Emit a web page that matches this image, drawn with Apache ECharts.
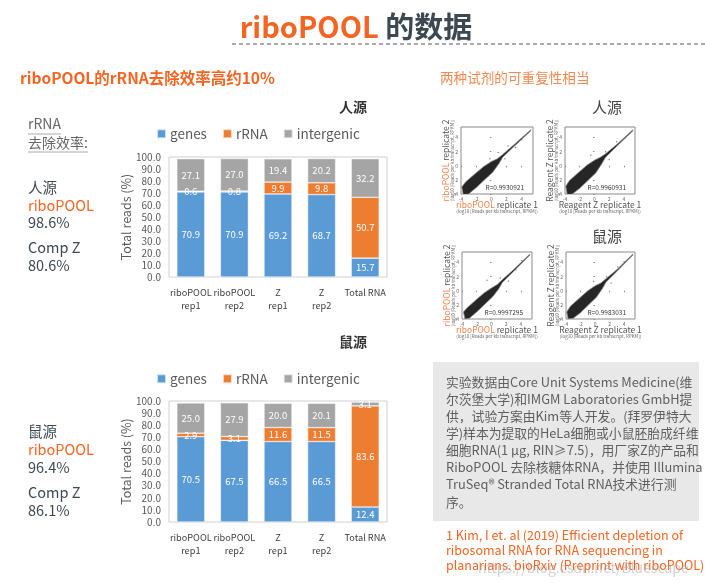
<!DOCTYPE html>
<html><head><meta charset="utf-8">
<script src="https://cdn.jsdelivr.net/npm/echarts@6/dist/echarts.min.js"></script>
<style>html,body{margin:0;padding:0;background:#fff}#c{width:705px;height:588px}</style>
</head><body><div id="c"></div>
<script>
// ---- data ----
const categories = ['riboPOOL\nrep1', 'riboPOOL\nrep2', 'Z\nrep1', 'Z\nrep2', 'Total RNA'];
const humanGenes = [70.9, 70.9, 69.2, 68.7, 15.7];
const humanRRNA = [0.6, 0.8, 9.9, 9.8, 50.7];
const humanInter = [27.1, 27.0, 19.4, 20.2, 32.2];
const mouseGenes = [70.5, 67.5, 66.5, 66.5, 12.4];
const mouseRRNA = [2.9, 3.1, 11.6, 11.5, 83.6];
const mouseInter = [25.0, 27.9, 20.0, 20.1, 3.1];
const scatterTicks = [-4, -2, 0, 2, 4];
// scatter cloud outlines (log10 RPKM)
const cloudHumanRibo = [[-3.9,-3.0],[-3.4,-2.3],[-2.0,-1.0],[-1.0,-0.1],[0.0,0.6],[0.8,1.0],[1.5,1.6],[3.0,3.0],[5.2,5.1],[5.2,4.95],[3.0,2.75],[1.5,1.2],[1.0,0.3],[0.2,-0.9],[-1.0,-2.1],[-2.0,-3.1],[-3.0,-4.0],[-3.7,-4.1]];
const cloudHumanZ = [[-3.9,-2.9],[-3.4,-2.1],[-2.0,-0.8],[-1.0,0.1],[0.0,0.8],[0.8,1.2],[1.5,1.7],[3.0,3.0],[5.2,5.1],[5.2,4.95],[3.0,2.75],[1.5,1.2],[1.0,0.3],[0.2,-1.0],[-1.0,-2.2],[-2.0,-3.2],[-3.0,-4.0],[-3.7,-4.1]];
const cloudMouseRibo = [[-3.8,-3.0],[-3.3,-2.4],[-2.0,-1.2],[-1.0,-0.3],[0.0,0.4],[0.8,0.9],[1.5,1.6],[3.0,3.0],[5.2,5.2],[5.2,5.05],[3.0,2.75],[1.5,1.2],[1.0,0.3],[0.2,-0.8],[-1.0,-2.0],[-2.0,-3.0],[-3.0,-3.9],[-3.6,-4.0]];
const cloudMouseZ = [[-3.9,-3.0],[-3.4,-2.2],[-2.0,-0.9],[-1.0,0.0],[0.0,0.7],[0.8,1.1],[1.5,1.7],[3.0,3.0],[5.2,5.2],[5.2,5.05],[3.0,2.75],[1.5,1.2],[1.0,0.3],[0.2,-0.9],[-1.0,-2.1],[-2.0,-3.1],[-3.0,-3.9],[-3.7,-4.0]];
const outHumanRibo = [[0.9,1.9],[1.8,1.0],[-0.2,1.0],[3.2,2.6],[2.2,2.8],[4.0,3.7]];
const outHumanZ = [[-0.5,1.5],[1.5,2.0],[2.0,0.9],[3.0,3.4],[4.2,4.0]];
const outMouseRibo = [[-0.6,1.5],[1.2,1.8],[2.3,1.4],[3.3,3.0],[4.1,4.3]];
const outMouseZ = [[-0.2,1.3],[1.6,2.0],[2.2,1.1],[3.1,3.4],[4.0,4.1]];
const rValues = ['R=0.9930921', 'R=0.9960931', 'R=0.9997295', 'R=0.9983031'];

const ORANGE = '#f26522', DARK = '#3d4852', GRAY = '#666';
const FONT = '"Noto Sans CJK SC", "Noto Sans", sans-serif';
const C_BLUE = '#5b9bd5', C_OR = '#ed7d31', C_GR = '#a5a5a5';

const chart = echarts.init(document.getElementById('c'), null, {renderer: 'canvas'});

const barGrids = [{left:169, top:157, width:218, height:120}, {left:169, top:401, width:218, height:121}];
const scGrids = [{left:461, top:127, width:72, height:67}, {left:565, top:127, width:70, height:67},
                 {left:462, top:252, width:70, height:67}, {left:566, top:252, width:69, height:67}];
const grids = barGrids.concat(scGrids).map(g => Object.assign({show:true, borderColor:'#d0d0d0', borderWidth:1, containLabel:false}, g));
grids.slice(2).forEach(g => { g.borderColor = '#8a8a8a'; });

const xAxes = [], yAxes = [];
for (let i = 0; i < 2; i++) {
  xAxes.push({type:'category', gridIndex:i, data:categories, axisLine:{show:false}, axisTick:{show:false},
    axisLabel:{fontSize:9.2, color:'#404040', lineHeight:13, margin:9, fontFamily:FONT, interval:0}});
  yAxes.push({type:'value', gridIndex:i, min:0, max:100, interval:10, splitLine:{show:false},
    axisLine:{show:false}, axisTick:{show:false},
    axisLabel:{fontSize:10, color:'#595959', margin:8, fontFamily:FONT, formatter:v => v.toFixed(1)},
    name:'Total reads (%)', nameLocation:'middle', nameGap:36,
    nameTextStyle:{fontSize:12.5, color:'#595959', fontFamily:FONT}});
}
for (let i = 0; i < 4; i++) {
  const ax = {gridIndex:i+2, type:'value', min:-4, max:5.5, interval:2, splitLine:{show:false},
    axisLine:{show:false}, axisTick:{show:true, length:1.5, lineStyle:{color:'#888'}},
    axisLabel:{fontSize:5, color:'#666', margin:3, showMaxLabel:false, fontFamily:FONT,
      formatter: v => scatterTicks.indexOf(v) >= 0 ? String(v) : ''}};
  xAxes.push(Object.assign({}, ax));
  yAxes.push(Object.assign({}, ax));
}

function barSeries(idx, g, r, it) {
  const lab = {show:true, color:'#fff', fontSize:9.5, fontFamily:FONT, formatter:p => p.value.toFixed(1)};
  const common = {type:'bar', stack:'s'+idx, xAxisIndex:idx, yAxisIndex:idx, barWidth:28, label:lab,
    itemStyle:{borderColor:'rgba(255,255,255,0.7)', borderWidth:0.6}};
  return [
    Object.assign({name:'genes', data:g, color:C_BLUE}, common),
    Object.assign({name:'rRNA', data:r, color:C_OR}, common),
    Object.assign({name:'intergenic', data:it, color:C_GR}, common)
  ];
}
function cloudSeries(idx, outline, outliers) {
  return [
    {type:'custom', xAxisIndex:idx, yAxisIndex:idx, data:[[0,0]], silent:true, clip:true,
      renderItem:(params, api) => ({type:'polygon',
        shape:{points: outline.map(p => api.coord(p))},
        style:{fill:'#262626', stroke:'#8a8a8a', lineWidth:0.8, lineJoin:'round'}})},
    {type:'scatter', xAxisIndex:idx, yAxisIndex:idx, data:outliers, symbolSize:1.5,
      itemStyle:{color:'#666'}, silent:true}
  ];
}

const series = [].concat(
  barSeries(0, humanGenes, humanRRNA, humanInter),
  barSeries(1, mouseGenes, mouseRRNA, mouseInter),
  cloudSeries(2, cloudHumanRibo, outHumanRibo),
  cloudSeries(3, cloudHumanZ, outHumanZ),
  cloudSeries(4, cloudMouseRibo, outMouseRibo),
  cloudSeries(5, cloudMouseZ, outMouseZ)
);

const legendBase = {data:['genes','rRNA','intergenic'], icon:'rect', itemWidth:9, itemHeight:9, itemGap:15,
  textStyle:{fontSize:13.5, color:'#595959', fontFamily:FONT, padding:[0,0,0,-1]}, selectedMode:false};

function txt(text, x, y, opts) {
  return {type:'text', x:x, y:y, silent:true, style:Object.assign({text:text, fill:DARK, font:'14px '+FONT,
    textAlign:'left', textVerticalAlign:'middle'}, opts || {})};
}
const rich = {o:{fill:'#f0824a', fontSize:8.5, fontFamily:FONT}, g:{fill:'#555', fontSize:8.5, fontFamily:FONT}};
const graphics = [
  txt('{o|riboPOOL }{d|的数据}', 356, 27, {textAlign:'center', rich:{
    o:{fill:ORANGE, fontSize:29, fontWeight:'bold', fontFamily:FONT},
    d:{fill:DARK, fontSize:29, fontWeight:'bold', fontFamily:FONT}}}),
  {type:'line', silent:true, shape:{x1:232, y1:44, x2:705, y2:44}, style:{stroke:'#555', lineWidth:1, lineDash:[4,3]}},
  txt('riboPOOL的rRNA去除效率高约10%', 20, 78, {fill:ORANGE, font:'bold 15.5px '+FONT}),
  txt('两种试剂的可重复性相当', 440, 78, {fill:'#f08a50', font:'13.6px '+FONT}),
  txt('人源', 353, 107, {textAlign:'center', font:'bold 14px '+FONT, fill:'#333'}),
  txt('鼠源', 353, 342, {textAlign:'center', font:'bold 14px '+FONT, fill:'#333'}),
  txt('人源', 607, 107, {textAlign:'center', font:'15px '+FONT, fill:'#444'}),
  txt('鼠源', 607, 236, {textAlign:'center', font:'15px '+FONT, fill:'#444'}),
  // left column
  txt('rRNA', 28, 124, {fill:GRAY, font:'14px '+FONT}),
  {type:'line', silent:true, shape:{x1:28, y1:134, x2:61, y2:134}, style:{stroke:'#aaa', lineWidth:1}},
  txt('去除效率:', 28, 143, {fill:GRAY, font:'14px '+FONT}),
  {type:'line', silent:true, shape:{x1:28, y1:152, x2:88, y2:152}, style:{stroke:'#aaa', lineWidth:1}},
  txt('人源', 28, 187, {font:'14.5px '+FONT}),
  txt('riboPOOL', 28, 205, {fill:ORANGE, font:'14.5px '+FONT}),
  txt('98.6%', 28, 222, {font:'14.5px '+FONT}),
  txt('Comp Z', 28, 247, {font:'14.5px '+FONT}),
  txt('80.6%', 28, 265, {font:'14.5px '+FONT}),
  txt('鼠源', 28, 431, {font:'14.5px '+FONT}),
  txt('riboPOOL', 28, 449, {fill:ORANGE, font:'14.5px '+FONT}),
  txt('96.4%', 28, 467, {font:'14.5px '+FONT}),
  txt('Comp Z', 28, 492, {font:'14.5px '+FONT}),
  txt('86.1%', 28, 510, {font:'14.5px '+FONT}),
  // info box
  {type:'rect', silent:true, shape:{x:433, y:362, width:266, height:159}, style:{fill:'#e8e8e8'}}
];
const boxLines = ['实验数据由Core Unit Systems Medicine(维', '尔茨堡大学)和IMGM Laboratories GmbH提',
  '供，试验方案由Kim等人开发。(拜罗伊特大', '学)样本为提取的HeLa细胞或小鼠胚胎成纤维',
  '细胞RNA(1 µg, RIN≥7.5)，用厂家Z的产品和', 'RiboPOOL 去除核糖体RNA，并使用 Illumina',
  'TruSeq® Stranded Total RNA技术进行测', '序。'];
boxLines.forEach((l, i) => graphics.push(txt(l, 446, 382 + i * 17.1, {fill:'#5f5f5f', font:'12.8px '+FONT})));
['1 Kim, I et. al (2019) Efficient depletion of', 'ribosomal RNA for RNA sequencing in',
 'planarians. bioRxiv (Preprint with riboPOOL)'].forEach((l, i) =>
  graphics.push(txt(l, 446, 535 + i * 15.2, {fill:ORANGE, font:'12.5px '+FONT})));
graphics.push(txt('https://blog.csdn.net/Bluescape', 478, 568, {fill:'rgba(170,170,170,0.55)', font:'14px '+FONT}));

// scatter axis titles
const scMeta = [
  {g:scGrids[0], ribo:true, r:rValues[0]},
  {g:scGrids[1], ribo:false, r:rValues[1]},
  {g:scGrids[2], ribo:true, r:rValues[2]},
  {g:scGrids[3], ribo:false, r:rValues[3]}
];
scMeta.forEach(m => {
  const g = m.g, cx = g.left + g.width / 2, cy = g.top + g.height / 2, bottom = g.top + g.height;
  const t1 = m.ribo ? '{o|riboPOOL}{g| replicate 1}' : '{g|Reagent Z replicate 1}';
  const t2 = m.ribo ? '{o|riboPOOL}{g| replicate 2}' : '{g|Reagent Z replicate 2}';
  graphics.push(txt(t1, cx, bottom + 11, {textAlign:'center', rich:rich}));
  graphics.push(txt('(log10 [Reads per kb transcript, RPKM])', cx, bottom + 17.5, {textAlign:'center', fill:'#666', font:'4.5px '+FONT}));
  graphics.push({type:'text', silent:true, x:g.left - 15, y:cy, rotation:Math.PI/2,
    style:{text:t2, rich:rich, textAlign:'center', textVerticalAlign:'middle'}});
  graphics.push({type:'text', silent:true, x:g.left - 9, y:cy, rotation:Math.PI/2,
    style:{text:'(log10 [Reads per kb transcript, RPKM])', fill:'#666', font:'4.5px '+FONT, textAlign:'center', textVerticalAlign:'middle'}});
  graphics.push(txt(m.r, g.left + g.width - 9, bottom - 6, {textAlign:'right', fill:'#333', font:'6.5px '+FONT}));
});

chart.setOption({
  backgroundColor:'#fff',
  animation:false,
  grid:grids,
  xAxis:xAxes,
  yAxis:yAxes,
  legend:[Object.assign({left:151, top:122}, legendBase), Object.assign({left:151, top:367}, legendBase)],
  series:series,
  graphic:graphics
});
</script></body></html>
